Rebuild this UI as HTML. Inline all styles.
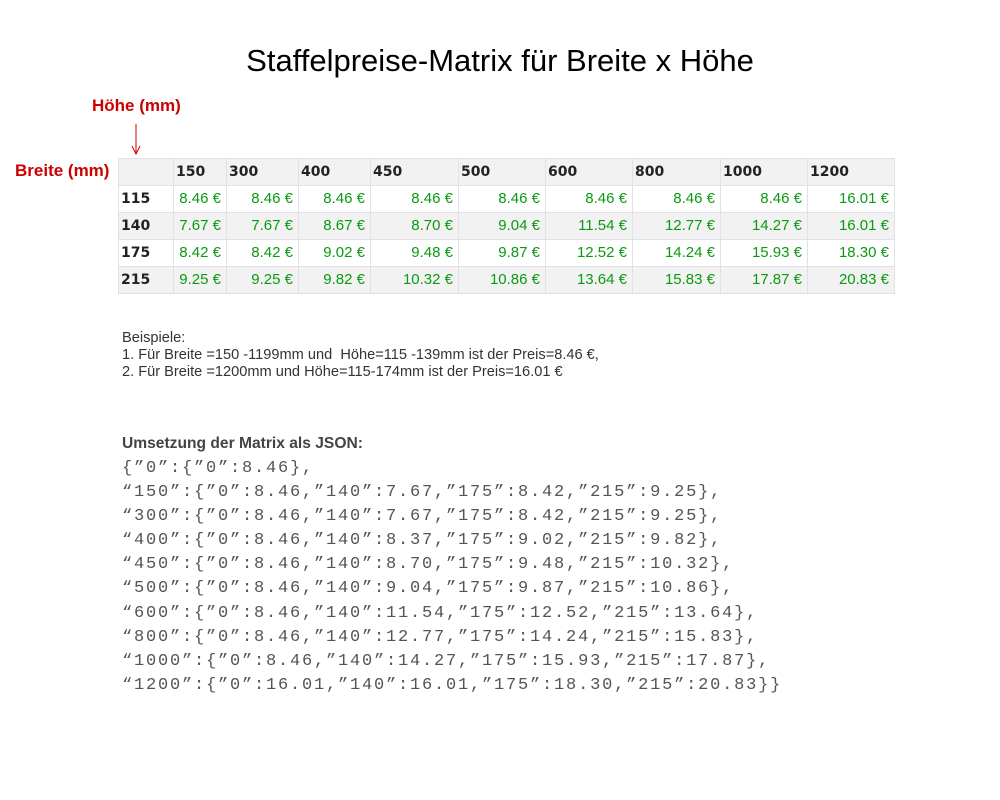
<!DOCTYPE html>
<html><head><meta charset="utf-8"><style>
body{margin:0;width:1000px;height:800px;background:#fff;position:relative;font-family:"Liberation Sans",sans-serif;overflow:hidden}
.a{position:absolute;white-space:pre}
table{position:absolute;left:118px;top:158px;border-collapse:collapse;table-layout:fixed;font-size:14px}
td{border:1px solid #e0e0e6;height:26px;padding:0 5px;line-height:16px;color:#0a9a12;text-align:right;font-family:"Liberation Sans",sans-serif;font-size:15px;vertical-align:middle}
td.h{color:#222;font-weight:bold;text-align:left;font-family:"DejaVu Sans",sans-serif;font-size:14px;padding-left:2px}
tr.g td{background:#f2f2f2}
.j{left:122px;font-family:"Liberation Mono",monospace;font-size:17px;letter-spacing:1.8px;color:#555}
</style></head><body>
<div class="a" style="left:0;width:1000px;text-align:center;top:43px;font-size:31px;color:#000">Staffelpreise-Matrix für Breite x Höhe</div>
<div class="a" style="left:92px;top:96px;font-size:17px;color:#cc0000;font-weight:bold">Höhe (mm)</div>
<div class="a" style="left:15px;top:161px;font-size:17px;color:#cc0000;font-weight:bold">Breite (mm)</div>
<svg class="a" style="left:0;top:0" width="200" height="200"><g stroke="#cc0000" fill="none" stroke-width="1"><line x1="136" y1="124" x2="136" y2="154"/><polyline points="132,146 136,154 140,146"/><line x1="139" y1="172" x2="168" y2="172"/><polyline points="160,168 168,172 160,176"/></g></svg>
<table>
<colgroup><col style="width:55px"><col style="width:53px"><col style="width:72px"><col style="width:72px"><col style="width:88px"><col style="width:87px"><col style="width:87px"><col style="width:88px"><col style="width:87px"><col style="width:87px"></colgroup>
<tr class="g"><td class="h"></td><td class="h">150</td><td class="h">300</td><td class="h">400</td><td class="h">450</td><td class="h">500</td><td class="h">600</td><td class="h">800</td><td class="h">1000</td><td class="h">1200</td></tr>
<tr><td class="h">115</td><td>8.46 €</td><td>8.46 €</td><td>8.46 €</td><td>8.46 €</td><td>8.46 €</td><td>8.46 €</td><td>8.46 €</td><td>8.46 €</td><td>16.01 €</td></tr>
<tr class="g"><td class="h">140</td><td>7.67 €</td><td>7.67 €</td><td>8.67 €</td><td>8.70 €</td><td>9.04 €</td><td>11.54 €</td><td>12.77 €</td><td>14.27 €</td><td>16.01 €</td></tr>
<tr><td class="h">175</td><td>8.42 €</td><td>8.42 €</td><td>9.02 €</td><td>9.48 €</td><td>9.87 €</td><td>12.52 €</td><td>14.24 €</td><td>15.93 €</td><td>18.30 €</td></tr>
<tr class="g"><td class="h">215</td><td>9.25 €</td><td>9.25 €</td><td>9.82 €</td><td>10.32 €</td><td>10.86 €</td><td>13.64 €</td><td>15.83 €</td><td>17.87 €</td><td>20.83 €</td></tr>
</table>
<div class="a" style="left:122px;top:330px;font-size:14.6px;line-height:17px;color:#333">Beispiele:
1. Für Breite =150 -1199mm und  Höhe=115 -139mm ist der Preis=8.46 €,
2. Für Breite =1200mm und Höhe=115-174mm ist der Preis=16.01 €</div>
<div class="a" style="left:122px;top:435px;font-size:15.6px;font-weight:bold;color:#444">Umsetzung der Matrix als JSON:</div>
<div class="a j" style="top:457px;line-height:24.1px">{”0”:{”0”:8.46},
“150”:{”0”:8.46,”140”:7.67,”175”:8.42,”215”:9.25},
“300”:{”0”:8.46,”140”:7.67,”175”:8.42,”215”:9.25},
“400”:{”0”:8.46,”140”:8.37,”175”:9.02,”215”:9.82},
“450”:{”0”:8.46,”140”:8.70,”175”:9.48,”215”:10.32},
“500”:{”0”:8.46,”140”:9.04,”175”:9.87,”215”:10.86},
“600”:{”0”:8.46,”140”:11.54,”175”:12.52,”215”:13.64},
“800”:{”0”:8.46,”140”:12.77,”175”:14.24,”215”:15.83},
“1000”:{”0”:8.46,”140”:14.27,”175”:15.93,”215”:17.87},
“1200”:{”0”:16.01,”140”:16.01,”175”:18.30,”215”:20.83}}</div>
</body></html>
